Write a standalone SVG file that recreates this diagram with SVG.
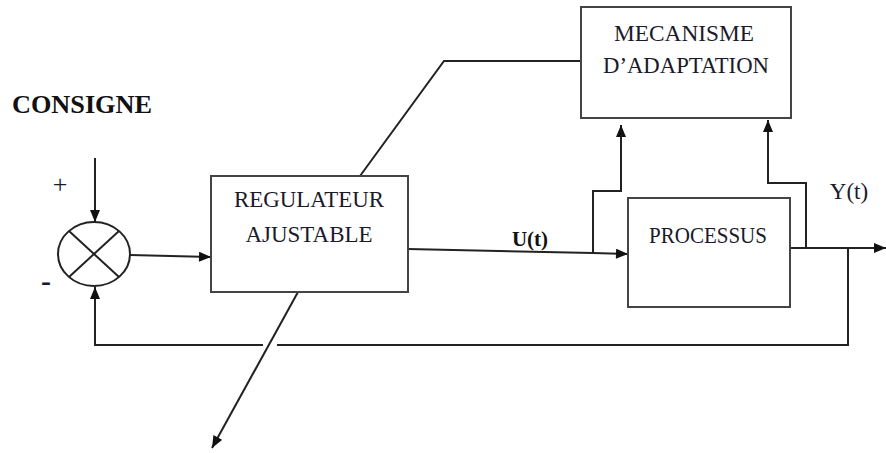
<svg xmlns="http://www.w3.org/2000/svg" width="886" height="453" viewBox="0 0 886 453">
<style>
.box{fill:#fff;stroke:#444;stroke-width:2}
.ln{fill:none;stroke:#222;stroke-width:2}
.t{font-family:"Liberation Serif","Times New Roman",serif;font-size:23px;fill:#1a1a2a;text-anchor:middle}
.b{font-family:"Liberation Serif","Times New Roman",serif;font-weight:bold;fill:#111}
</style>
<defs>
<marker id="ah" viewBox="0 0 12 10" refX="12" refY="5" markerWidth="13" markerHeight="10" markerUnits="userSpaceOnUse" orient="auto">
<path d="M0,0 L12,5 L0,10 Z" fill="#111"/>
</marker>
</defs>
<rect width="886" height="453" fill="#fff"/>
<g id="connectors">
<line class="ln" x1="95" y1="158" x2="95" y2="222" marker-end="url(#ah)"/>
<line class="ln" x1="130" y1="255" x2="211" y2="257" marker-end="url(#ah)"/>
<polyline class="ln" points="408,249 593,253 628,254" marker-end="url(#ah)"/>
<polyline class="ln" points="593,253 593,191 621,191 621,125" marker-end="url(#ah)"/>
<polyline class="ln" points="790,248 886,248" marker-end="url(#ah)"/>
<polyline class="ln" points="806,248 806,183 768,183 768,120" marker-end="url(#ah)"/>
<polyline class="ln" points="848,248 848,345 277,345"/>
<polyline class="ln" points="263,345 95,345 95,287" marker-end="url(#ah)"/>
<polyline class="ln" points="360,176 444,61 581,61"/>
<line class="ln" x1="298" y1="292" x2="212" y2="448" marker-end="url(#ah)"/>
</g>
<g id="sum">
<ellipse cx="94" cy="254" rx="36" ry="32" fill="#fff" stroke="#222" stroke-width="2"/>
<line class="ln" x1="69" y1="231" x2="119" y2="277"/>
<line class="ln" x1="119" y1="231" x2="69" y2="277"/>
<text x="60" y="193" class="t" style="font-size:26px">+</text>
<text x="46" y="291" class="t" style="font-size:30px;font-weight:bold">-</text>
</g>
<g id="consigne">
<text x="12" y="113" class="b" font-size="25" textLength="140" lengthAdjust="spacingAndGlyphs">CONSIGNE</text>
</g>
<g id="regulateur">
<rect class="box" x="211" y="176" width="197" height="116"/>
<text x="309" y="207" class="t" textLength="150" lengthAdjust="spacingAndGlyphs">REGULATEUR</text>
<text x="309" y="242" class="t" textLength="127" lengthAdjust="spacingAndGlyphs">AJUSTABLE</text>
</g>
<g id="mecanisme">
<rect class="box" x="581" y="7" width="210" height="111"/>
<text x="684" y="41" class="t" textLength="140" lengthAdjust="spacingAndGlyphs">MECANISME</text>
<text x="686" y="73" class="t" textLength="166" lengthAdjust="spacingAndGlyphs">D’ADAPTATION</text>
</g>
<g id="processus">
<rect class="box" x="628" y="198" width="162" height="109"/>
<text x="708" y="243" class="t" textLength="118" lengthAdjust="spacingAndGlyphs">PROCESSUS</text>
</g>
<g id="labels">
<text x="530" y="246" class="b" font-size="21" text-anchor="middle">U(t)</text>
<text x="849" y="199" class="t" style="font-size:23px">Y(t)</text>
</g>
</svg>
